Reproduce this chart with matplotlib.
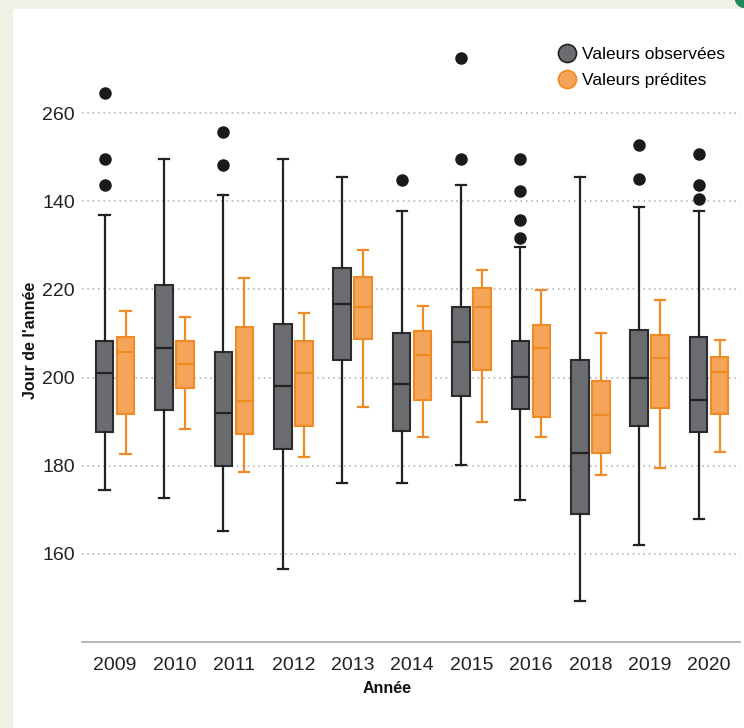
import matplotlib.pyplot as plt
from matplotlib.lines import Line2D
from matplotlib.patches import Rectangle, Circle

plt.rcParams['font.family'] = ['Liberation Sans', 'DejaVu Sans']

years = ['2009', '2010', '2011', '2012', '2013', '2014', '2015', '2016', '2018', '2019', '2020']

# valeurs observées (moustache basse, Q1, médiane, Q3, moustache haute)
obs_wlo = [174.5, 172.6, 165.2, 156.6, 176.1, 176.1, 180.1, 172.2, 149.3, 162.1, 168.0]
obs_q1 = [187.7, 192.7, 180.0, 183.9, 203.9, 187.8, 195.8, 192.9, 169.0, 189.0, 187.7]
obs_med = [201.1, 206.8, 191.9, 198.0, 216.8, 198.6, 208.0, 200.2, 182.9, 199.9, 195.0]
obs_q3 = [208.2, 220.9, 205.9, 212.1, 224.8, 210.0, 216.0, 208.2, 204.0, 210.9, 209.1]
obs_whi = [236.9, 249.5, 241.4, 249.5, 245.5, 237.9, 243.8, 229.7, 245.6, 238.8, 237.9]
obs_out = [[264.6, 249.5, 243.7], [], [255.7, 248.3], [], [], [244.8], [272.6, 249.5],
           [249.5, 242.4, 235.8, 231.7], [], [252.7, 245.0], [250.8, 243.8, 240.5]]

# valeurs prédites
pred_wlo = [182.6, 188.4, 178.6, 182.0, 193.3, 186.5, 190.0, 186.5, 177.9, 179.5, 183.1]
pred_q1 = [191.7, 197.6, 187.2, 189.0, 208.8, 195.0, 201.8, 191.1, 182.8, 193.2, 191.8]
pred_med = [205.8, 203.1, 194.7, 201.1, 216.1, 205.2, 216.0, 206.8, 191.6, 204.4, 201.2]
pred_q3 = [209.3, 208.2, 211.5, 208.2, 222.9, 210.6, 220.4, 211.9, 199.2, 209.7, 204.6]
pred_whi = [215.1, 213.8, 222.5, 214.6, 229.0, 216.3, 224.3, 219.8, 210.2, 217.6, 208.6]

ytick_vals = [160, 180, 200, 220, 240, 260]
ytick_labels = ['160', '180', '200', '220', '140', '260']  # tel quel dans l'original

GRAY = '#6b6c70'
DARK = '#222222'
ORANGE_FILL = '#f5a55a'
ORANGE = '#f08a24'


def make_stats(wlo, q1, med, q3, whi, out=None):
    stats = []
    for i in range(len(wlo)):
        stats.append({'whislo': wlo[i], 'q1': q1[i], 'med': med[i], 'q3': q3[i],
                      'whishi': whi[i], 'fliers': out[i] if out else []})
    return stats


fig = plt.figure(figsize=(7.44, 7.28), dpi=100, facecolor='#f0f1e4')
fig.patches.append(Rectangle((13 / 744, 0), 1, 1 - 9 / 728, transform=fig.transFigure,
                             facecolor='white', edgecolor='none', zorder=-2))
fig.patches.append(Circle((745 / 744, 1 + 2 / 728), 0.014, transform=fig.transFigure,
                          facecolor='#1f8a5b', edgecolor='none', zorder=-1))

ax = fig.add_axes([82 / 744, 1 - 642 / 728, 658 / 744, 632 / 728], zorder=2)
ax.set_facecolor('none')

pos = list(range(len(years)))
off = 0.177
w = 0.296

ax.bxp(make_stats(obs_wlo, obs_q1, obs_med, obs_q3, obs_whi, obs_out),
       positions=[p - off for p in pos], widths=w, capwidths=0.17,
       patch_artist=True, manage_ticks=False,
       boxprops=dict(facecolor=GRAY, edgecolor='#2b2b2d', linewidth=1.5),
       medianprops=dict(color=DARK, linewidth=1.6),
       whiskerprops=dict(color=DARK, linewidth=1.6),
       capprops=dict(color=DARK, linewidth=1.6),
       flierprops=dict(marker='o', markerfacecolor='#1a1a1a', markeredgecolor='#1a1a1a',
                       markersize=8))

ax.bxp(make_stats(pred_wlo, pred_q1, pred_med, pred_q3, pred_whi),
       positions=[p + off for p in pos], widths=w, capwidths=0.17,
       patch_artist=True, manage_ticks=False,
       boxprops=dict(facecolor=ORANGE_FILL, edgecolor=ORANGE, linewidth=1.5),
       medianprops=dict(color=ORANGE, linewidth=1.6),
       whiskerprops=dict(color=ORANGE, linewidth=1.6),
       capprops=dict(color=ORANGE, linewidth=1.6))

ax.set_xlim(-0.556, 10.52)
ax.set_ylim(140, 283.4)

ax.set_yticks(ytick_vals)
ax.set_yticklabels(ytick_labels)
ax.set_xticks(pos)
ax.set_xticklabels(years)
ax.tick_params(axis='both', length=0, labelsize=14, colors='#222222')
ax.tick_params(axis='x', pad=11)
ax.tick_params(axis='y', pad=5)

for v in ytick_vals:
    ax.axhline(v, color='#aaaaaa', linewidth=1.1, linestyle=(0, (1, 2.5)), zorder=0)

for s in ['top', 'right', 'left']:
    ax.spines[s].set_visible(False)
ax.spines['bottom'].set_color('#aaaaaa')
ax.spines['bottom'].set_linewidth(1.2)

ax.set_ylabel("Jour de l'année", fontsize=11.5, fontweight='bold', color='#111111')
ax.yaxis.set_label_coords(-0.067, 0.478)
ax.set_xlabel('Année', fontsize=11.5, fontweight='bold', color='#111111')
ax.xaxis.set_label_coords(0.463, -0.062)

handles = [Line2D([], [], linestyle='none', marker='o', markersize=13,
                  markerfacecolor=GRAY, markeredgecolor=DARK, markeredgewidth=1.2),
           Line2D([], [], linestyle='none', marker='o', markersize=13,
                  markerfacecolor=ORANGE_FILL, markeredgecolor=ORANGE, markeredgewidth=1.2)]
fig.legend(handles, ['Valeurs observées', 'Valeurs prédites'], loc='upper right',
           bbox_to_anchor=(734 / 744, 1 - 38 / 728), frameon=False, fontsize=12.5,
           handletextpad=0.3, labelspacing=0.62, borderpad=0, handlelength=1.2)

fig.savefig('out.png', dpi=100, facecolor=fig.get_facecolor())
